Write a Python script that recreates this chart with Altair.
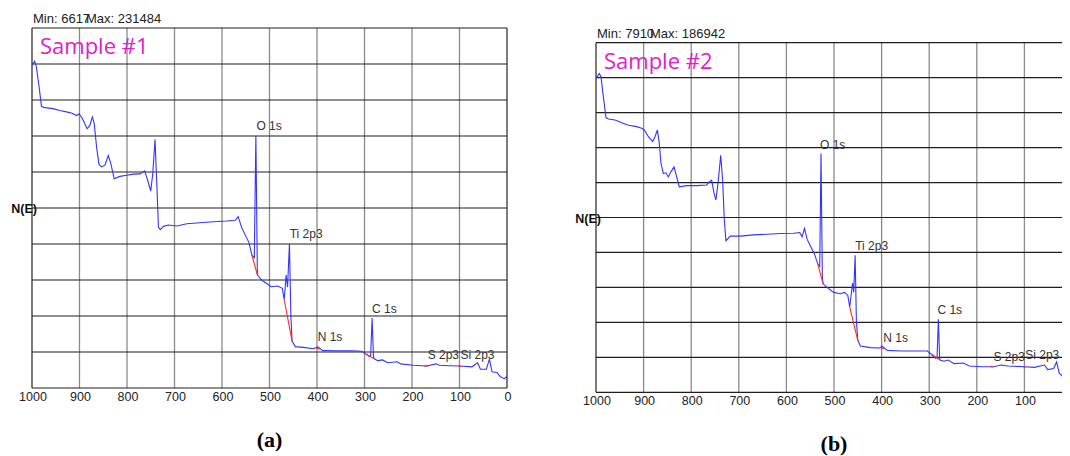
import altair as alt
import pandas as pd

# ---------------- data ----------------
XTICKS = [1000, 900, 800, 700, 600, 500, 400, 300, 200, 100, 0]

MIN1, MAX1 = 6617, 231484
MIN2, MAX2 = 7910, 186942

# Sample #1 survey spectrum (binding energy eV, counts)
BE1 = [1000, 994.4, 990.8, 985, 980, 973, 955.6, 941.5, 927.5, 917, 906, 900.7, 893.7, 884, 878, 873,
       869, 864, 859, 853.5, 846.5, 839.4, 834, 827, 815, 800.7, 786.6, 772.5, 763, 758.5, 753.5, 750,
       745.8, 741, 737, 733.8, 730, 723, 713, 695, 674, 646, 618, 590, 572, 566, 558, 553, 543, 537,
       532, 528.7, 525.5, 516.7, 506, 496.6, 483, 473, 469, 465, 462, 458, 455, 452.5, 445.7, 428.6,
       408, 398, 387.7, 360.5, 327, 306, 299, 289, 287, 284, 281, 280, 272, 262, 251.4, 231, 224, 197,
       169.6, 149, 142.3, 121.8, 100, 74, 61.8, 56, 43.5, 37, 31.6, 21, 18, 14, 5.6, 1.4, 0]
CPS1 = [228500, 231484, 227500, 213200, 199400, 198600, 197900, 196600, 195600, 194800, 193000, 194300,
        190700, 183600, 186200, 192000, 187200, 170600, 158400, 156600, 157800, 164700, 158900, 148200,
        149900, 150700, 151500, 151700, 153800, 149400, 143600, 139500, 151700, 176000, 142300, 114000,
        112200, 114500, 115500, 114800, 116300, 117000, 117800, 118300, 118800, 121400, 113200, 109700,
        102800, 94100, 92300, 178500, 80100, 76500, 74000, 71700, 72200, 70600, 62500, 80100, 71400,
        102000, 51000, 33200, 29300, 28800, 27800, 29100, 26500, 26300, 26300, 26000, 24500, 22200,
        22950, 49500, 21700, 20900, 19400, 19900, 17850, 18600, 17100, 16100, 15600, 17100, 16100, 15800,
        15600, 15000, 17850, 13300, 13300, 20400, 11500, 11000, 9700, 7900, 6617, 7900, 6900]

RED1_SEG = [1, 1, 2, 2, 3, 3, 4, 4, 5, 5, 6, 6]
RED1_BE = [537, 525.5, 469, 452.5, 402, 394, 299, 280, 175, 165, 103, 97]
RED1_CPS = [94100, 80100, 62500, 33200, 28300, 27500, 24500, 20900, 15600, 15600, 15600, 15300]

# Sample #2 survey spectrum
BE2 = [999, 993, 989.5, 984.6, 979, 974, 960, 946, 932, 914.6, 904, 898.5, 890, 881, 876, 871, 867,
       863.5, 858.5, 853, 848, 842.4, 836, 830.5, 825, 809.5, 788.5, 767.5, 762, 757, 752, 748, 743, 738,
       734, 730.4, 727, 718, 697, 669, 641, 613, 585, 572, 567, 562, 556.5, 548, 541, 534, 530, 527.3,
       524.5, 523, 514.6, 500.6, 486.5, 478, 471, 467, 461, 458.6, 455.6, 453, 450, 444.6, 423.5, 404,
       398.6, 388, 360, 332, 304, 295.6, 286.7, 283.5, 280.7, 278, 277, 269, 260, 247.7, 228, 216, 191,
       165, 149.5, 135, 100, 79, 58, 51, 38.6, 32.3, 26.7, 19.6, 14.7, 9, 2, 0]
CPS2 = [184500, 186942, 185100, 173200, 161100, 160300, 159700, 158100, 156600, 155800, 154800, 153800,
        149900, 147000, 149900, 153800, 146000, 134300, 128300, 128700, 126300, 129400, 132200, 126300,
        120500, 121200, 121200, 121600, 123400, 124400, 116600, 112800, 124400, 139000, 124400, 100900,
        88800, 91600, 91600, 92300, 92700, 93100, 93300, 93700, 91200, 96100, 89800, 84900, 81000, 75200,
        73800, 140000, 67700, 63600, 61500, 58600, 57800, 58600, 56800, 50000, 64000, 58600, 80400, 42200,
        30500, 27100, 26200, 26000, 27100, 24600, 24200, 24200, 24200, 22300, 19900, 20500, 42800, 19500,
        18900, 18200, 18900, 16800, 17200, 15400, 15000, 15000, 16000, 15400, 15000, 14600, 16000, 13300,
        13900, 17800, 11100, 9400, 11500, 8200, 8800, 7910]

RED2_SEG = [1, 1, 2, 2, 3, 3, 4, 4, 5, 5, 6, 6]
RED2_BE = [534, 523, 467, 450, 403, 395, 295.6, 277, 172, 165, 103, 97]
RED2_CPS = [75200, 63600, 50000, 30500, 26200, 25600, 22300, 18900, 15000, 15000, 15000, 14800]

PEAK_NAMES = ["O 1s", "Ti 2p3", "C 1s", "N 1s", "S 2p3", "Si 2p3"]
PEAK1_BE = [527.5, 457.5, 284, 398.6, 167, 98]
PEAK1_CPS = [185400, 108900, 56100, 36000, 23500, 23500]
PEAK2_BE = [529.4, 455.4, 282.8, 396.4, 165, 98.2]
PEAK2_CPS = [144900, 85900, 48400, 32000, 20700, 21700]

YMAX1 = 255000
YMAX2 = 205000

SANS = "Liberation Sans"


def panel(be, cps, rseg, rbe, rcps, pbe, pcps, ymax, xrange, yrange, sample, tag, mn, mx):
    xs = alt.Scale(domain=[1000, 0], range=xrange, nice=False, zero=False)
    ys = alt.Scale(domain=[0, ymax], range=yrange, nice=False, zero=False)

    def X(f):
        return alt.X(f, scale=xs, axis=None)

    def Y(f):
        return alt.Y(f, scale=ys, axis=None)

    hgrid = pd.DataFrame({"y": [ymax * k / 10 for k in range(11)], "x1": 1000, "x2": 0})
    inner = [v for v in XTICKS if v not in (0, 1000)]
    vgrid = pd.DataFrame({"x": inner, "y1": 0, "y2": ymax})
    edges = pd.DataFrame({"x": [1000, 0], "y1": 0, "y2": ymax})
    ticks = pd.DataFrame({"x": XTICKS, "y": 0, "t": [str(v) for v in XTICKS]})
    curve = pd.DataFrame({"be": be, "cps": cps, "i": list(range(len(be)))})
    red = pd.DataFrame({"be": rbe, "cps": rcps, "seg": rseg})
    peaks = pd.DataFrame({"be": pbe, "cps": pcps, "t": PEAK_NAMES})
    anchor_top = pd.DataFrame({"x": [1000], "y": [ymax]})
    anchor_mid = pd.DataFrame({"x": [1000], "y": [ymax / 2]})
    anchor_bot = pd.DataFrame({"x": [500], "y": [0]})

    layers = [
        alt.Chart(vgrid).mark_rule(color="#8a8a8a", strokeWidth=1.3).encode(
            x=X("x:Q"), y=Y("y1:Q"), y2="y2:Q"),
        alt.Chart(edges).mark_rule(color="#333333", strokeWidth=1.3).encode(
            x=X("x:Q"), y=Y("y1:Q"), y2="y2:Q"),
        alt.Chart(hgrid).mark_rule(color="#1e1e1e", strokeWidth=1.2).encode(
            x=X("x1:Q"), x2="x2:Q", y=Y("y:Q")),
        alt.Chart(ticks).mark_text(dy=9, dx=1, baseline="middle", fontSize=12.5, font=SANS,
                                   color="#222").encode(x=X("x:Q"), y=Y("y:Q"), text="t:N"),
        alt.Chart(curve).mark_line(color="#3434ff", strokeWidth=1.1).encode(
            x=X("be:Q"), y=Y("cps:Q"), order="i:Q"),
        alt.Chart(red).mark_line(color="#ff2a2a", strokeWidth=1.1).encode(
            x=X("be:Q"), y=Y("cps:Q"), detail="seg:N"),
        alt.Chart(peaks).mark_text(align="left", baseline="middle", fontSize=12, font=SANS,
                                   color="#333").encode(x=X("be:Q"), y=Y("cps:Q"), text="t:N"),
        alt.Chart(anchor_top).mark_text(text=f"Min: {mn}", align="left", baseline="alphabetic",
                                        dx=1, dy=-5, fontSize=13, font=SANS, color="#222").encode(
            x=X("x:Q"), y=Y("y:Q")),
        alt.Chart(anchor_top).mark_text(text=f"Max: {mx}", align="left", baseline="alphabetic",
                                        dx=54, dy=-5, fontSize=13, font=SANS, color="#222").encode(
            x=X("x:Q"), y=Y("y:Q")),
        alt.Chart(anchor_top).mark_text(text=sample, align="left", baseline="alphabetic",
                                        dx=8, dy=26, fontSize=22, font="Open Sans",
                                        color="#e020c8").encode(x=X("x:Q"), y=Y("y:Q")),
        alt.Chart(anchor_mid).mark_text(text="N(E)", align="right", baseline="middle",
                                        dx=5, dy=1, fontSize=12.5, fontWeight="bold", font=SANS,
                                        color="#111").encode(x=X("x:Q"), y=Y("y:Q")),
        alt.Chart(anchor_bot).mark_text(text=tag, align="center", baseline="middle",
                                        dy=52, fontSize=22, fontWeight="bold",
                                        font="Liberation Serif", color="#000").encode(
            x=X("x:Q"), y=Y("y:Q")),
    ]
    return alt.layer(*layers)


left = panel(BE1, CPS1, RED1_SEG, RED1_BE, RED1_CPS, PEAK1_BE, PEAK1_CPS, YMAX1,
             [24, 499], [380, 20], "Sample #1", "(a)", MIN1, MAX1)
right = panel(BE2, CPS2, RED2_SEG, RED2_BE, RED2_CPS, PEAK2_BE, PEAK2_CPS, YMAX2,
              [588, 1064], [384.3, 34.7], "Sample #2", "(b)", MIN2, MAX2)

chart = alt.layer(left, right).resolve_scale(x="independent", y="independent").properties(
    width=1054, height=448, autosize=alt.AutoSizeParams(type="none"), padding=0,
    background="white"
).configure_view(strokeWidth=0)

chart.save("out.html", embed_options={"renderer": "svg", "actions": False})
